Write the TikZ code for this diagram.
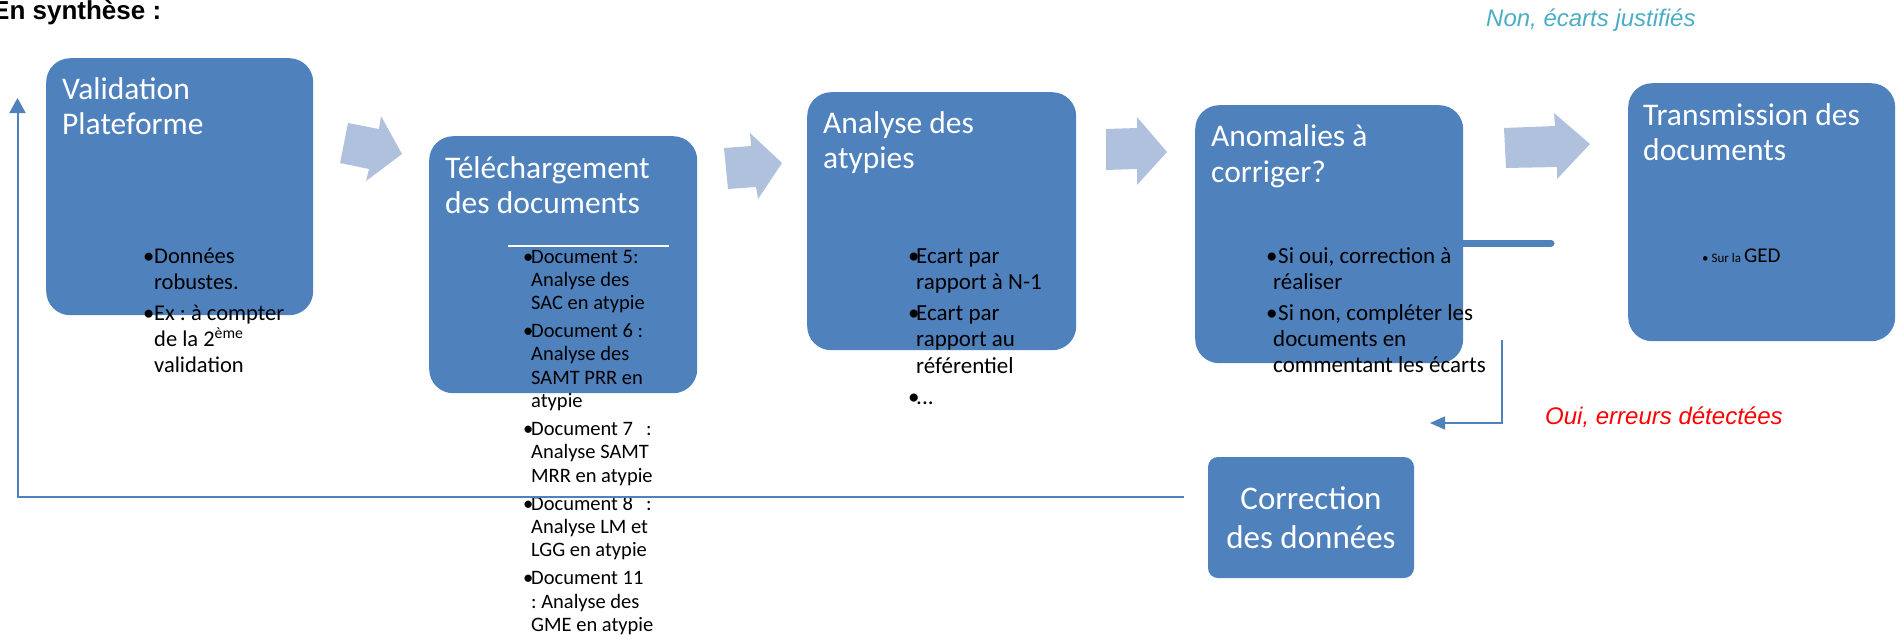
\documentclass[tikz,border=0pt]{standalone}
\usepackage{fontspec}
\setmainfont{Carlito}
\newfontfamily\arialf{Liberation Sans}
\usetikzlibrary{arrows.meta}
\definecolor{boxblue}{HTML}{4F81BD}
\definecolor{arrowblue}{HTML}{B0C1DE}
\definecolor{noncol}{HTML}{4BACC6}
\definecolor{ouicol}{HTML}{FF0000}
\newcommand\nospread{\frenchspacing\spaceskip=0pt\xspaceskip=0pt\relax}
\tikzset{
  box/.style={fill=boxblue, rounded corners=24pt, anchor=north west, inner sep=0pt},
  ttl/.style={anchor=base west, inner sep=0pt, text=white, align=left, text width=320pt,
              font={\fontsize{31.5}{35.5}\selectfont}, execute at begin node=\nospread},
  blist/.style={anchor=base west, inner sep=0pt, text=black, align=left, text width=340pt,
              execute at begin node=\nospread},
  link/.style={draw=boxblue, line width=2pt},
  barrow/.style={fill=arrowblue},
}
\begin{document}
\begin{tikzpicture}[x=1pt,y=-1pt]
\useasboundingbox (0,0) rectangle (1901,638);

% heading
\node[anchor=base west, inner sep=0pt, font={\arialf\bfseries\fontsize{26}{30}\selectfont}] (head) at (-8,19) {En synthèse :};

% boxes
\node[box, minimum width=267pt, minimum height=257pt] (val) at (46,58) {};
\node[box, minimum width=268pt, minimum height=257pt] (tel) at (429,136) {};
\node[box, minimum width=269pt, minimum height=258pt] (ana) at (807,92) {};
\node[box, minimum width=268pt, minimum height=258pt] (anom) at (1195,105) {};
\node[box, minimum width=267pt, minimum height=258pt] (trans) at (1628,83) {};
\node[box, rounded corners=10pt, anchor=center, minimum width=206pt, minimum height=121pt,
      text=white, align=center, font={\fontsize{33}{38.5}\selectfont}, execute at begin node=\nospread] (corr) at (1311,517.5)
      {Correction\\des données};

% block arrows
\fill[barrow] (348,123) -- (379,129) -- (381,116) -- (402,154) -- (366,181) -- (369,169) -- (340,163) -- cycle;
\fill[barrow] (724,148) -- (751,146) -- (750,133) -- (782,163) -- (758,199) -- (756,187) -- (728,189) -- cycle;
\fill[barrow] (1106,129) -- (1137,128) -- (1137,117) -- (1167,152) -- (1137,185) -- (1137,169) -- (1106,170) -- cycle;
\fill[barrow] (1504,128) -- (1555,126) -- (1554,113) -- (1590,144) -- (1557,179) -- (1557,167) -- (1506,168) -- cycle;

% white rule inside box 2
\draw[white, line width=1.5pt] (508,246) -- (669,246);

% titles
\node[ttl] (valt) at (62,99) {Validation\\Plateforme};
\node[ttl] (telt) at (445,178) {Téléchargement\\des documents};
\node[ttl] (anat) at (823,133) {Analyse des\\atypies};
\node[ttl] (anomt) at (1211,146.5) {Anomalies à\\corriger?};
\node[ttl] (transt) at (1643,125) {Transmission des\\documents};

% bullet lists
\node[blist, font={\fontsize{22.5}{26.3}\selectfont}] (valb) at (143,263)
 {\makebox[11pt][l]{•}Données\\
  \hspace*{11pt}robustes.\\[4.5pt]
  \makebox[11pt][l]{•}Ex : à compter\\
  \hspace*{11pt}de la 2\textsuperscript{ème}\\
  \hspace*{11pt}validation};

\node[blist, font={\fontsize{20.5}{23.3}\selectfont}] (telb) at (523,263)
 {\makebox[8pt][l]{•}Document 5:\\
  \hspace*{8pt}Analyse des\\
  \hspace*{8pt}SAC en atypie\\[4.7pt]
  \makebox[8pt][l]{•}Document 6 :\\
  \hspace*{8pt}Analyse des\\
  \hspace*{8pt}SAMT PRR en\\
  \hspace*{8pt}atypie\\[4.7pt]
  \makebox[8pt][l]{•}Document 7\hspace{13pt}:\\
  \hspace*{8pt}Analyse SAMT\\
  \hspace*{8pt}MRR en atypie\\[4.7pt]
  \makebox[8pt][l]{•}Document 8\hspace{13pt}:\\
  \hspace*{8pt}Analyse LM et\\
  \hspace*{8pt}LGG en atypie\\[4.7pt]
  \makebox[8pt][l]{•}Document 11\\
  \hspace*{8pt}: Analyse des\\
  \hspace*{8pt}GME en atypie};

\node[blist, font={\fontsize{23}{26.5}\selectfont}] (anab) at (908,263)
 {\makebox[8pt][l]{•}Ecart par\\
  \hspace*{8pt}rapport à N-1\\[4pt]
  \makebox[8pt][l]{•}Ecart par\\
  \hspace*{8pt}rapport au\\
  \hspace*{8pt}référentiel\\[4.5pt]
  \makebox[8pt][l]{•}...};

\node[blist, font={\fontsize{23}{26.3}\selectfont}] (anomb) at (1266,263)
 {\makebox[12pt][l]{•}Si oui, correction à\\
  \hspace*{7pt}réaliser\\[4.5pt]
  \makebox[12pt][l]{•}Si non, compléter les\\
  \hspace*{7pt}documents en\\
  \hspace*{7pt}commentant les écarts};

\node[anchor=base west, inner sep=0pt] (transb) at (1702,262)
 {{\fontsize{13}{15}\selectfont • Sur la }{\fontsize{21}{24}\selectfont GED}};

% labels
\node[anchor=base west, inner sep=0pt, text=noncol, font={\arialf\itshape\fontsize{24}{28}\selectfont}] (non) at (1486,26) {Non, écarts justifiés};
\node[anchor=base west, inner sep=0pt, text=ouicol, font={\arialf\itshape\fontsize{24}{28}\selectfont}] (oui) at (1545,424) {Oui, erreurs détectées};

% connectors
\coordinate (anomr) at (1551,243);
\draw[boxblue, line width=7pt, line cap=round] (anom.east |- anomr) -- (anomr);

\coordinate (elA) at (1502,340);
\coordinate (elB) at (1430,423);
\draw[boxblue, line width=1.5pt, -{Triangle[width=13pt,length=15pt]}] (elA) |- (elB);

\coordinate (fbS) at (1184,497);
\coordinate (fbE) at (17.5,98);
\draw[link, -{Triangle[width=16pt,length=15pt]}] (fbS) -| (fbE);
\end{tikzpicture}
\end{document}
